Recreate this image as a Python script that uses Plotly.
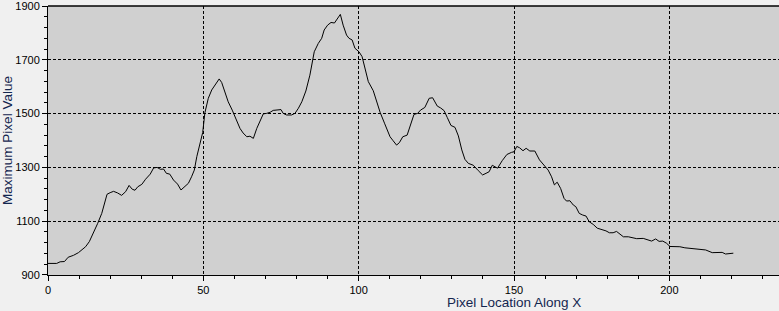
import plotly.graph_objects as go

# Pixel location along X
pixel_x = [0, 2.8, 3.9, 5.3, 6.5, 8.2, 9.8, 10.8, 12.1, 13.3, 14.6, 16.0, 17.3, 18.1, 19.0,
           20.0, 21.1, 22.4, 23.7, 25.0, 26.1, 27.1, 28.0, 28.9, 30.2, 31.4, 32.9, 34.0, 35.1,
           36.2, 37.2, 38.1, 39.2, 40.4, 41.7, 42.8, 43.9, 45.2, 46.2, 47.1, 47.9, 48.6, 49.8,
           50.5, 51.6, 52.7, 53.7, 55.1, 55.9, 57.0, 58.0, 59.3, 60.7, 61.8, 62.8, 64.0, 65.0,
           66.1, 67.2, 68.2, 69.3, 70.4, 71.5, 72.5, 75.0, 75.7, 76.8, 78.4, 79.5, 80.6, 81.7,
           83.0, 84.3, 85.7, 87.0, 88.1, 88.9, 90.0, 91.1, 92.2, 93.2, 94.1, 95.0, 96.1, 96.9,
           97.9, 98.8, 100.1, 101.1, 102.2, 103.1, 104.7, 105.8, 106.9, 108.4, 110.1, 111.1,
           112.2, 113.1, 114.2, 115.6, 116.5, 117.8, 119.0, 119.9, 121.3, 122.7, 123.8, 125.3,
           126.4, 127.5, 128.5, 129.7, 131.0, 132.1, 133.2, 134.2, 135.3, 136.9, 138.5, 139.9,
           141.0, 142.0, 143.0, 143.9, 144.7, 146.2, 147.7, 149.2, 150.0, 150.9, 151.8, 152.9,
           153.9, 155.1, 156.7, 158.2, 160.0, 161.0, 162.1, 163.0, 163.9, 165.0, 166.1, 166.9,
           168.0, 169.1, 169.9, 171.0, 172.1, 173.2, 174.2, 175.5, 176.8, 178.2, 179.6, 180.7,
           181.9, 183.0, 184.1, 185.2, 186.8, 187.9, 189.5, 191.6, 193.2, 194.3, 195.6, 196.7,
           197.9, 199.1, 200.2, 201.8, 203.4, 205.0, 206.6, 208.2, 209.8, 211.7, 213.8, 216.0,
           217.0, 218.1, 220.6]

# Maximum pixel value
max_value = [943, 943, 949, 950, 966, 973, 983, 993, 1005, 1024, 1055, 1092, 1129, 1166, 1200,
             1206, 1211, 1205, 1196, 1210, 1233, 1219, 1215, 1228, 1237, 1256, 1275, 1298, 1300,
             1293, 1294, 1278, 1275, 1253, 1238, 1216, 1226, 1241, 1265, 1290, 1340, 1377, 1430,
             1503, 1557, 1588, 1606, 1629, 1616, 1579, 1544, 1513, 1476, 1445, 1428, 1414, 1416,
             1408, 1445, 1470, 1499, 1501, 1505, 1512, 1515, 1501, 1495, 1495, 1501, 1520, 1544,
             1584, 1643, 1730, 1761, 1780, 1811, 1829, 1839, 1837, 1852, 1869, 1829, 1792, 1780,
             1774, 1743, 1730, 1712, 1660, 1619, 1585, 1545, 1505, 1462, 1414, 1399,
             1383, 1392, 1414, 1420, 1449, 1497, 1501, 1513, 1523, 1557, 1559, 1528,
             1521, 1511, 1486, 1456, 1449, 1417, 1365, 1330, 1315, 1308, 1288, 1272,
             1278, 1284, 1308, 1303, 1297, 1325, 1348, 1356, 1358, 1378, 1373, 1362,
             1371, 1361, 1361, 1328, 1305, 1290, 1265, 1235, 1245, 1222, 1185, 1175,
             1176, 1160, 1154, 1129, 1123, 1119, 1098, 1088, 1074, 1070, 1064, 1057,
             1057, 1062, 1051, 1042, 1042, 1039, 1035, 1036, 1030, 1026, 1034, 1025,
             1026, 1018, 1006, 1006, 1005, 1001, 999, 996, 993, 993, 983, 984,
             984, 978, 981]

x_ticks = [0, 50, 100, 150, 200]
y_ticks = [900, 1100, 1300, 1500, 1700, 1900]

FONT = "Liberation Sans, Arial, sans-serif"
TITLE_COLOR = "#14264f"

fig = go.Figure()
fig.add_trace(go.Scatter(x=pixel_x, y=max_value, mode="lines",
                         line=dict(color="black", width=1), showlegend=False,
                         hoverinfo="skip"))

fig.update_layout(
    width=779, height=311,
    margin=dict(l=48, r=0, t=6, b=36),
    paper_bgcolor="#f0f0f0",
    plot_bgcolor="#d0d0d0",
    font=dict(family=FONT, size=11, color="black"),
    showlegend=False,
    xaxis=dict(
        range=[0, 235.3], tickvals=x_ticks, ticktext=[str(v) for v in x_ticks],
        showline=True, linecolor="black", linewidth=1,
        ticks="outside", ticklen=5, tickcolor="black",
        showgrid=True, gridcolor="black", gridwidth=1, griddash="3px,2px",
        zeroline=False, ticklabeloverflow="allow",
        minor=dict(dtick=10, tick0=0, ticks="outside", ticklen=3, tickcolor="black",
                   showgrid=False),
        tickfont=dict(family=FONT, size=11, color="black"),
    ),
    yaxis=dict(
        range=[899.9, 1900.2], tickvals=y_ticks, ticktext=[str(v) for v in y_ticks],
        showline=True, linecolor="black", linewidth=1,
        ticks="outside", ticklen=5, tickcolor="black",
        showgrid=True, gridcolor="black", gridwidth=1, griddash="3px,2px",
        zeroline=False, ticklabeloverflow="allow",
        minor=dict(dtick=40, tick0=900, ticks="outside", ticklen=3, tickcolor="black",
                   showgrid=False),
        tickfont=dict(family=FONT, size=11, color="black"),
        title=dict(text="Maximum Pixel Value", standoff=6,
                   font=dict(family=FONT, size=13.5, color=TITLE_COLOR)),
    ),
    annotations=[dict(text="Pixel Location Along X", xref="paper", yref="paper",
                      x=(514 - 48) / 731, y=-27 / 269, xanchor="center", yanchor="middle",
                      showarrow=False,
                      font=dict(family=FONT, size=13.5, color=TITLE_COLOR))],
    shapes=[dict(type="line", xref="paper", yref="paper", x0=0, x1=1, y0=1, y1=1,
                 line=dict(color="black", width=1.5))],
)

fig.write_html("out.html")
